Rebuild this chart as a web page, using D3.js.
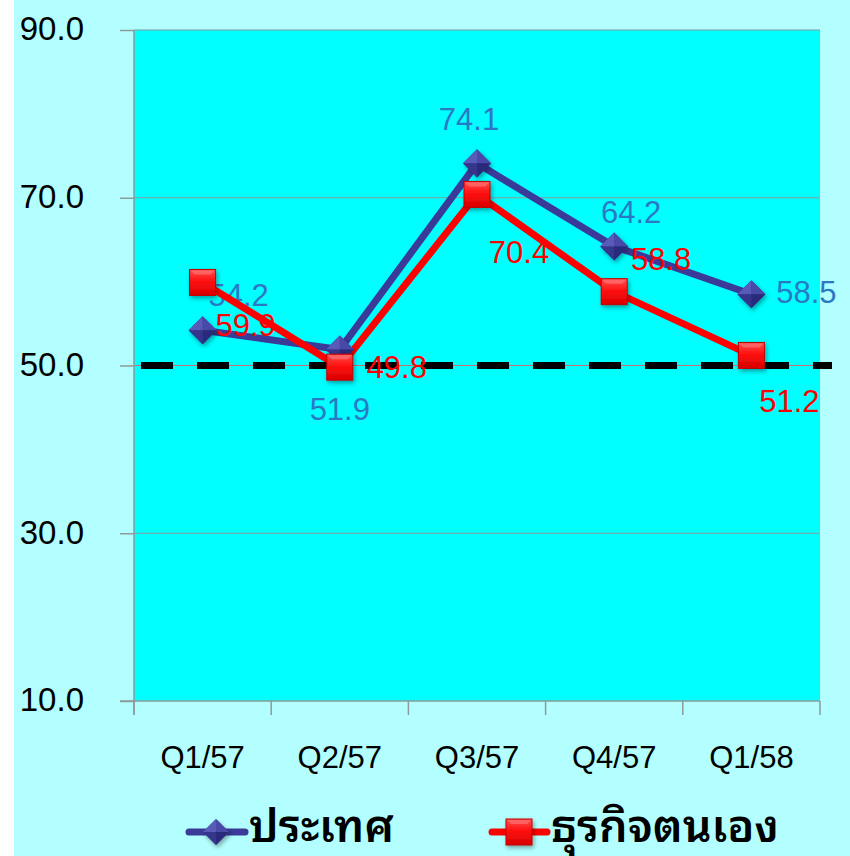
<!DOCTYPE html>
<html>
<head>
<meta charset="utf-8">
<script src="https://cdn.jsdelivr.net/npm/d3@7"></script>
<style>
  html, body { margin: 0; padding: 0; background: #ffffff; }
  svg { display: block; }
</style>
</head>
<body>
<svg id="chart" width="850" height="856"></svg>
<script>
// Quarterly index values (Thai fiscal quarters)
const categories = ["Q1/57", "Q2/57", "Q3/57", "Q4/57", "Q1/58"];
const countryValues = [54.2, 51.9, 74.1, 64.2, 58.5];   // ประเทศ
const businessValues = [59.9, 49.8, 70.4, 58.8, 51.2];  // ธุรกิจตนเอง
const yTicks = [10, 30, 50, 70, 90];
const seriesNames = ["ประเทศ", "ธุรกิจตนเอง"];
const thresholdValue = 50;

// Value-label placement relative to each point (dx, dy in px)
const countryLabelOffsets = [[36, -24], [0, 70], [-8, -33], [17, -23], [55, 9]];
const businessLabelOffsets = [[43, 54], [57, 11], [42, 69], [47, -22], [38, 57]];

const svg = d3.select("#chart");
const W = 850, H = 856;
const plot = { left: 134, right: 820, top: 30, bottom: 701 };

const fontLatin = "Arial, 'Liberation Sans', sans-serif";
const fontThai = "'Noto Sans Thai Looped', 'Noto Sans Thai', Loma, Garuda, Tahoma, 'DejaVu Sans', sans-serif";

const colBlue = "#3A3A98";
const colBlueLabel = "#2B78C5";
const colRed = "#FF0000";

// Backgrounds
svg.append("rect").attr("x", 0).attr("y", 0).attr("width", W).attr("height", H).attr("fill", "#ffffff");
svg.append("rect").attr("x", 14).attr("y", 0).attr("width", W - 14).attr("height", H).attr("fill", "#B3FFFF");
svg.append("rect").attr("x", plot.left).attr("y", plot.top)
  .attr("width", plot.right - plot.left).attr("height", plot.bottom - plot.top)
  .attr("fill", "#00FFFF");

// Scales
const x = d3.scaleBand().domain(categories).range([plot.left, plot.right]).padding(0);
const y = d3.scaleLinear().domain([10, 90]).range([plot.bottom, plot.top]);
const cx = c => x(c) + x.bandwidth() / 2;

// Gridlines
svg.append("g").selectAll("line")
  .data(yTicks.filter(t => t !== 10))
  .join("line")
  .attr("x1", plot.left).attr("x2", plot.right)
  .attr("y1", d => y(d)).attr("y2", d => y(d))
  .attr("stroke", d => d === thresholdValue ? "#C07070" : "#8C9A9A")
  .attr("stroke-width", 1.2);

// Y axis
const yAxis = d3.axisLeft(y).tickValues(yTicks).tickFormat(d3.format(".1f"))
  .tickSizeInner(14).tickSizeOuter(0).tickPadding(36);
const gy = svg.append("g").attr("transform", `translate(${plot.left},0)`).call(yAxis);
gy.select(".domain").attr("stroke", "#8C9A9A").attr("stroke-width", 1.5)
  .attr("d", `M0,${plot.top}V${plot.bottom + 14}`);
gy.selectAll(".tick line").attr("stroke", "#8C9A9A").attr("stroke-width", 1.5);
gy.selectAll(".tick text").attr("fill", "#000").attr("font-family", fontLatin)
  .attr("font-size", 33).attr("dy", "0.3em");

// X axis (ticks at category boundaries, labels centred)
const xAxis = d3.axisBottom(x).tickSize(0).tickPadding(0);
const gx = svg.append("g").attr("transform", `translate(0,${plot.bottom})`).call(xAxis);
gx.select(".domain").attr("stroke", "#8C9A9A").attr("stroke-width", 1.5)
  .attr("d", `M${plot.left - 14},0H${plot.right}`);
gx.selectAll(".tick text").attr("fill", "#000").attr("font-family", fontLatin)
  .attr("font-size", 31).attr("y", 67).attr("dy", 0);
const boundaries = categories.map(c => x(c)).concat([plot.right]);
gx.append("g").selectAll("line").data(boundaries).join("line")
  .attr("x1", d => d).attr("x2", d => d).attr("y1", 0).attr("y2", 14)
  .attr("stroke", "#8C9A9A").attr("stroke-width", 1.5);

// Marker definitions
const defs = svg.append("defs");
const sqGrad = defs.append("linearGradient").attr("id", "sqGrad")
  .attr("x1", 0).attr("y1", 0).attr("x2", 0).attr("y2", 1);
sqGrad.append("stop").attr("offset", "0%").attr("stop-color", "#FF5050");
sqGrad.append("stop").attr("offset", "45%").attr("stop-color", "#FF1010");
sqGrad.append("stop").attr("offset", "100%").attr("stop-color", "#D80000");
const shadow = defs.append("filter").attr("id", "shadow")
  .attr("x", "-50%").attr("y", "-50%").attr("width", "200%").attr("height", "200%");
shadow.append("feDropShadow").attr("dx", 1.5).attr("dy", 2.5).attr("stdDeviation", 2)
  .attr("flood-color", "#000").attr("flood-opacity", 0.35);

function drawDiamond(g, px, py, s) {
  const h = s / 2;
  const m = g.append("g").attr("transform", `translate(${px},${py})`).attr("filter", "url(#shadow)");
  m.append("path").attr("d", `M0,${-h}L${h},0L0,${h}L${-h},0Z`).attr("fill", "#3C3C9E");
  m.append("path").attr("d", `M0,${-h}L${-h},0L0,0Z`).attr("fill", "#5A5AB8");
  m.append("path").attr("d", `M0,${-h}L${h},0L0,0Z`).attr("fill", "#4848A8");
  m.append("path").attr("d", `M0,${h}L${-h},0L0,0Z`).attr("fill", "#34348C");
  m.append("path").attr("d", `M0,${h}L${h},0L0,0Z`).attr("fill", "#2A2A7A");
}
function drawSquare(g, px, py, s) {
  const h = s / 2;
  const m = g.append("g").attr("transform", `translate(${px},${py})`).attr("filter", "url(#shadow)");
  m.append("rect").attr("x", -h).attr("y", -h).attr("width", s).attr("height", s)
    .attr("fill", "url(#sqGrad)").attr("stroke", "#C00000").attr("stroke-width", 1);
  m.append("path").attr("d", `M${-h + 1},${-h + 1}L${h - 1},${-h + 1}L${h - 5},${-h + 5}L${-h + 5},${-h + 5}Z`)
    .attr("fill", "#FF7070").attr("opacity", 0.7);
}

const line = d3.line().x(d => cx(d.c)).y(d => y(d.v));
const countryData = categories.map((c, i) => ({ c, v: countryValues[i] }));
const businessData = categories.map((c, i) => ({ c, v: businessValues[i] }));

const layerLines = svg.append("g");
const layerDash = svg.append("g");
const layerMarks = svg.append("g");
const layerLabels = svg.append("g");

// Country series
layerLines.append("path").datum(countryData).attr("d", line)
  .attr("fill", "none").attr("stroke", colBlue).attr("stroke-width", 7).attr("stroke-linejoin", "round");
const gBlueLabels = layerLines.append("g");
countryData.forEach((d, i) => {
  gBlueLabels.append("text").attr("x", cx(d.c) + countryLabelOffsets[i][0])
    .attr("y", y(d.v) + countryLabelOffsets[i][1])
    .attr("text-anchor", "middle").attr("font-family", fontLatin).attr("font-size", 31)
    .attr("fill", colBlueLabel).text(d3.format(".1f")(d.v));
});

// Own-business series
layerLines.append("path").datum(businessData).attr("d", line)
  .attr("fill", "none").attr("stroke", colRed).attr("stroke-width", 7).attr("stroke-linejoin", "round");

// Threshold line at 50
layerDash.append("line")
  .attr("x1", plot.left + 7).attr("x2", plot.right + 12)
  .attr("y1", y(thresholdValue)).attr("y2", y(thresholdValue))
  .attr("stroke", "#000").attr("stroke-width", 7).attr("stroke-dasharray", "32 24");

countryData.forEach(d => drawDiamond(layerMarks, cx(d.c), y(d.v), 28));
businessData.forEach(d => drawSquare(layerMarks, cx(d.c), y(d.v), 26));

businessData.forEach((d, i) => {
  layerLabels.append("text").attr("x", cx(d.c) + businessLabelOffsets[i][0])
    .attr("y", y(d.v) + businessLabelOffsets[i][1])
    .attr("text-anchor", "middle").attr("font-family", fontLatin).attr("font-size", 31)
    .attr("fill", colRed).text(d3.format(".1f")(d.v));
});

// Legend
const legend = svg.append("g");
const legendY = 832;
legend.append("line").attr("x1", 189).attr("x2", 245).attr("y1", legendY).attr("y2", legendY)
  .attr("stroke", colBlue).attr("stroke-width", 7).attr("stroke-linecap", "round");
drawDiamond(legend, 216, legendY, 26);
legend.append("text").attr("x", 249).attr("y", 842).attr("font-family", fontThai)
  .attr("font-size", 45).attr("font-weight", 600).attr("fill", "#000").text(seriesNames[0]);

legend.append("line").attr("x1", 492).attr("x2", 547).attr("y1", legendY).attr("y2", legendY)
  .attr("stroke", colRed).attr("stroke-width", 7).attr("stroke-linecap", "round");
drawSquare(legend, 519, legendY, 26);
legend.append("text").attr("x", 551).attr("y", 842).attr("font-family", fontThai)
  .attr("font-size", 45).attr("font-weight", 600).attr("fill", "#000").text(seriesNames[1]);
</script>
</body>
</html>
